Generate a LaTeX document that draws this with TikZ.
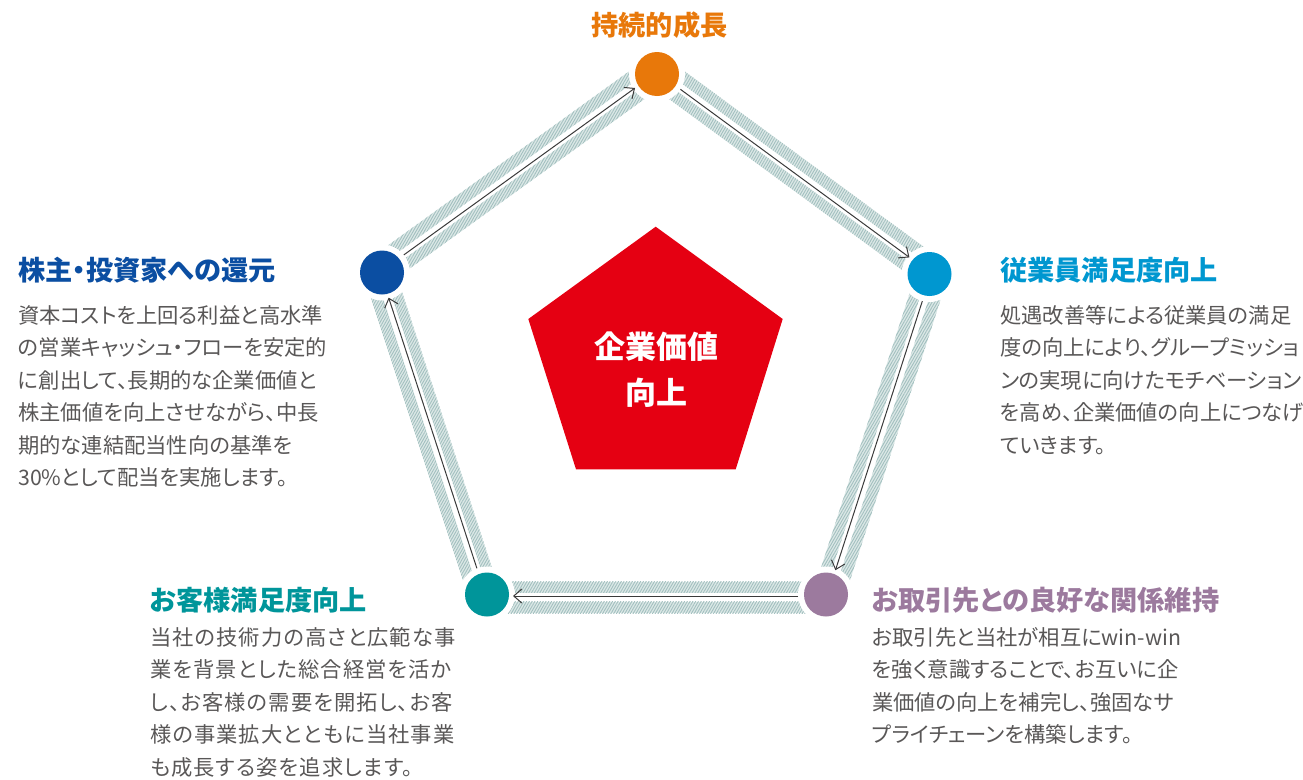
\documentclass[tikz,border=0pt]{standalone}
\usepackage{fontspec}
\setmainfont{Noto Sans CJK JP}[RawFeature=+palt]
\usetikzlibrary{calc,arrows.meta,patterns.meta}
\definecolor{corange}{HTML}{E8780A}
\definecolor{cnavy}{HTML}{0B4EA2}
\definecolor{cblue}{HTML}{0097D0}
\definecolor{cpurple}{HTML}{9C7A9E}
\definecolor{cteal}{HTML}{00959A}
\definecolor{cred}{HTML}{E50012}
\definecolor{cbody}{HTML}{595757}
\definecolor{cband}{HTML}{DCE8E7}
\definecolor{chatch}{HTML}{A2C0BF}
\definecolor{carrow}{HTML}{3A3A3A}
\newcommand\pbband[2]{%
  \fill[bandfill] ($(#1)!7pt!90:(#2)$) -- ($(#2)!7pt!-90:(#1)$) -- ($(#2)!18.5pt!-90:(#1)$) -- ($(#1)!18.5pt!90:(#2)$) -- cycle;
  \fill[bandfill] ($(#1)!2pt!-90:(#2)$) -- ($(#2)!2pt!90:(#1)$) -- ($(#2)!13pt!90:(#1)$) -- ($(#1)!13pt!-90:(#2)$) -- cycle;
}
\newcommand\pbarrow[2]{%
  \draw[flowline] ($(#1)!1.5pt!90:(#2)$) -- ($(#2)!1.5pt!-90:(#1)$);
}
\begin{document}
\begin{tikzpicture}[x=1pt,y=-1pt,
  bandfill/.style={fill=cband, postaction={pattern={Lines[angle=60,distance=2.4pt,line width=0.9pt]}, pattern color=chatch}},
  flowline/.style={draw=carrow, line width=1pt, shorten <=28pt, shorten >=26pt, -{Straight Barb[length=8pt,width=14pt,line width=1pt]}},
  dot/.style={circle, minimum size=44pt, inner sep=0pt, draw=none},
  ttl/.style={font=\fontsize{27.2}{30}\selectfont\bfseries, inner sep=0pt},
  body/.style={font=\fontsize{21.3}{32.5}\selectfont, text=cbody, align=left, inner sep=0pt, anchor=north west},
]
\useasboundingbox (0,0) rectangle (1303,779);

\coordinate (T) at (657,74);
\coordinate (R) at (929.5,274);
\coordinate (BR) at (826,594.5);
\coordinate (BL) at (487,594.5);
\coordinate (L) at (382,272.5);

% bands
\pbband{T}{R}
\pbband{R}{BR}
\pbband{BR}{BL}
\pbband{BL}{L}
\pbband{L}{T}

% white rings
\foreach \p in {T,R,BR,BL,L} \fill[white] (\p) circle[radius=28pt];

% arrows
\pbarrow{L}{T}
\pbarrow{T}{R}
\pbarrow{R}{BR}
\pbarrow{BR}{BL}
\pbarrow{BL}{L}

% circles
\node[dot, fill=corange] (nT) at (T) {};
\node[dot, fill=cblue] (nR) at (R) {};
\node[dot, fill=cpurple] (nBR) at (BR) {};
\node[dot, fill=cteal] (nBL) at (BL) {};
\node[dot, fill=cnavy] (nL) at (L) {};

% central pentagon
\fill[cred] (655.7,226.7) -- (782.7,319) -- (735.7,469.3) -- (576,469.3) -- (528.3,319) -- cycle;
\node[font=\fontsize{31}{46}\selectfont\bfseries, text=white, align=center, inner sep=0pt] (center) at (656,369.6) {企業価値\\向上};

% titles
\node[ttl, text=corange] (tT) at (659.5,25) {持続的成長};
\node[ttl, text=cnavy, anchor=west] (tL) at (18,270) {株主・投資家への還元};
\node[ttl, text=cblue, anchor=west] (tR) at (1000,270) {従業員満足度向上};
\node[ttl, text=cpurple, anchor=west] (tBR) at (872,600) {お取引先との良好な関係維持};
\node[ttl, text=cteal, anchor=west] (tBL) at (150,600) {お客様満足度向上};

% body texts
\node[body] (bL) at (18,305) {資本コストを上回る利益と高水準\\の営業キャッシュ・フローを安定的\\に創出して、長期的な企業価値と\\株主価値を向上させながら、中長\\期的な連結配当性向の基準を\\30\%として配当を実施します。};
\node[body] (bR) at (1000,305) {処遇改善等による従業員の満足\\度の向上により、グループミッショ\\ンの実現に向けたモチベーション\\を高め、企業価値の向上につなげ\\ていきます。};
\node[body] (bBR) at (872,627) {お取引先と当社が相互にwin-win\\を強く意識することで、お互いに企\\業価値の向上を補完し、強固なサ\\プライチェーンを構築します。};
\node[body, font=\fontsize{21.3}{32.5}\selectfont\addfontfeatures{LetterSpace=5}] (bBL) at (150,627) {当社の技術力の高さと広範な事\\業を背景とした総合経営を活か\\し、お客様の需要を開拓し、お客\\様の事業拡大とともに当社事業\\も成長する姿を追求します。};
\end{tikzpicture}
\end{document}
